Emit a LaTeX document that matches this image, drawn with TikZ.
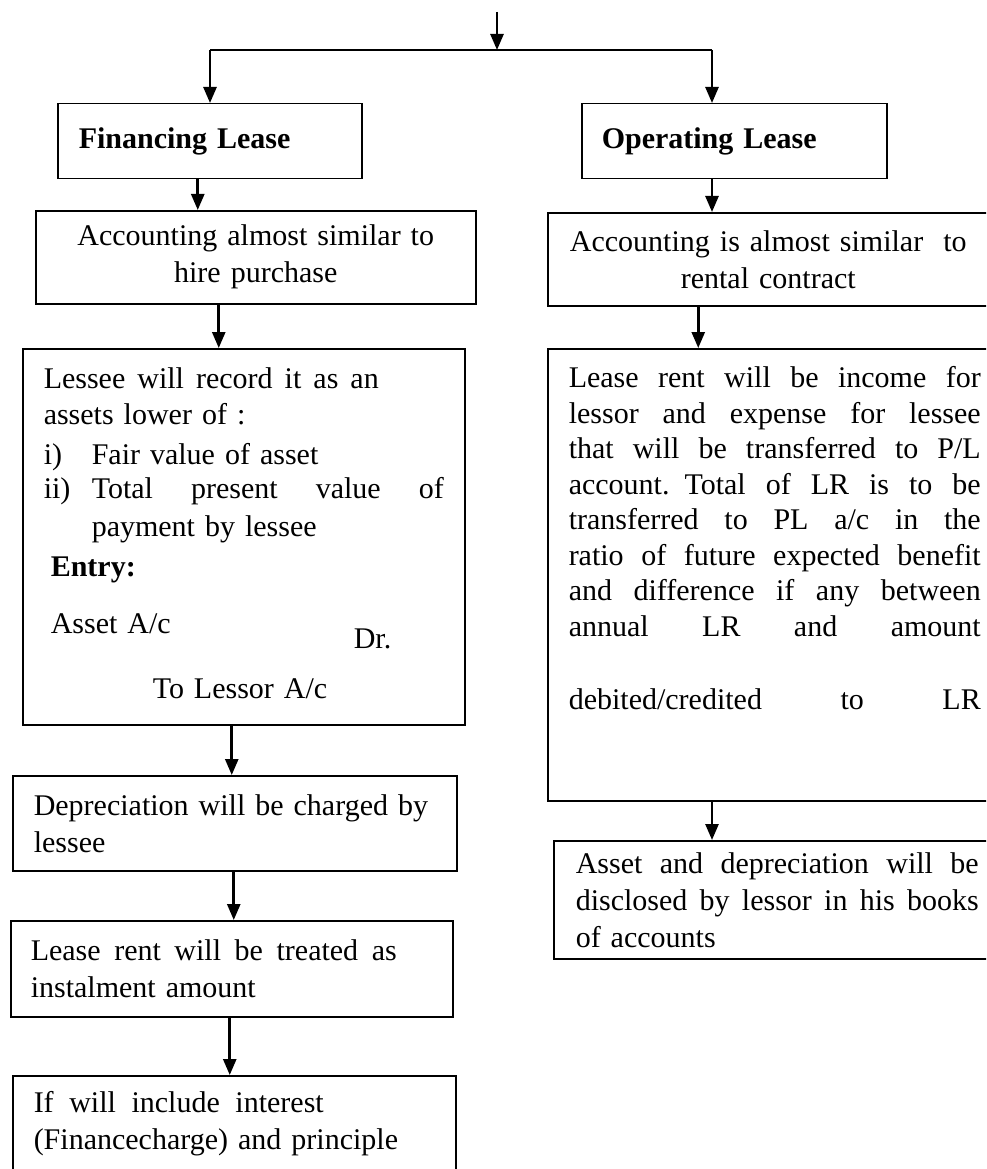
\documentclass[tikz,border=0pt]{standalone}
\usepackage{fontspec}
\setmainfont{Liberation Serif}
\usetikzlibrary{arrows.meta}
\newcommand{\spreadline}[2]{\leavevmode\hbox to #1{\spaceskip=.25em plus 1fil\relax #2}}
\tikzstyle{leasebox} = [draw=black, line width=1.5pt, rectangle, anchor=north west,
    inner ysep=0pt, align=left, font=\fontsize{30}{37}\selectfont]
\tikzstyle{leasetitle} = [leasebox, font=\fontsize{30}{37}\selectfont\bfseries]
\tikzstyle{flow} = [line width=2.6pt, -{Triangle[length=16pt,width=13pt]}]

\begin{document}
\begin{tikzpicture}[x=1pt,y=1pt]
\useasboundingbox (0,0) rectangle (986,-1169);
\clip (0,0) rectangle (986,-1169);

% the two kinds of lease
\node[leasetitle, text width=262pt, inner xsep=21pt, minimum height=75pt] (fin) at (57,-103) {Financing Lease};
\node[leasetitle, text width=265pt, inner xsep=20pt, minimum height=75pt] (op) at (581,-103) {Operating Lease};
\coordinate (top) at (497,-12);
\coordinate (split) at (497,-50);

% financing lease side
\node[leasebox, text width=400pt, inner xsep=20pt, minimum height=93pt, align=center] (accfin) at (35,-210)
    {Accounting almost similar to\\ hire purchase};
\node[leasebox, text width=400pt, inner xsep=21pt, minimum height=376pt] (record) at (22,-348) {%
    \spreadline{335pt}{Lessee will record it as an}\\[-1pt]
    assets lower of :\\[3pt]
    \makebox[48pt][l]{i)}Fair value of asset\\[-3pt]
    \makebox[48pt][l]{ii)}\spreadline{352pt}{Total present value of}\\[1pt]
    \hspace*{48pt}payment by lessee\\[3pt]
    \hspace*{7pt}\textbf{Entry:}\\[20pt]
    \hspace*{7pt}\makebox[303pt][l]{Asset A/c}\raisebox{-15pt}{Dr.}\\[28pt]
    \hspace*{109pt}To Lessor A/c\\[-29pt]\mbox{}};
\node[leasebox, text width=402pt, inner xsep=21pt, minimum height=95pt] (depr) at (12,-775)
    {Depreciation will be charged by\\ lessee};
\node[leasebox, text width=402pt, inner xsep=20pt, minimum height=96pt] (instal) at (10,-920)
    {\spreadline{366pt}{Lease rent will be treated as}\\ instalment amount};
\node[leasebox, text width=401pt, inner xsep=21pt, minimum height=130pt] (interest) at (12,-1075)
    {\spreadline{290pt}{If will include interest}\\ (Financecharge) and principle\\[4pt]\mbox{}};

% operating lease side
\node[leasebox, text width=399pt, inner xsep=21pt, minimum height=93pt, align=center] (accop) at (547,-212)
    {Accounting is almost similar\ \ to\\ rental contract};
\node[leasebox, text width=412pt, inner xsep=21pt, minimum height=452pt,
      font=\fontsize{30}{35.5}\selectfont] (rent) at (547,-348) {%
    \spreadline{412pt}{Lease rent will be income for}\\
    \spreadline{412pt}{lessor and expense for lessee}\\
    \spreadline{412pt}{that will be transferred to P/L}\\
    \spreadline{412pt}{account. Total of LR is to be}\\
    \spreadline{412pt}{transferred to PL a/c in the}\\
    \spreadline{412pt}{ratio of future expected benefit}\\
    \spreadline{412pt}{and difference if any between}\\
    \spreadline{412pt}{annual LR and amount}\\
    \mbox{}\\[2pt]
    \spreadline{412pt}{debited/credited to LR}\\[38pt]\mbox{}};
\node[leasebox, text width=403pt, inner xsep=22pt, minimum height=118pt] (disclose) at (553,-840) {%
    \spreadline{403pt}{Asset and depreciation will be}\\
    \spreadline{403pt}{disclosed by lessor in his books}\\
    of accounts};

% connectors
\draw[flow] (top) -- (split);
\draw[line width=2.2pt] (split) -- (split -| 210,0) coordinate (leftend)
    (split) -- (split -| 712,0) coordinate (rightend);
\draw[flow] (leftend) -- (leftend |- fin.north);
\draw[flow] (rightend) -- (rightend |- op.north);
\draw[flow] ([xshift=-12pt]fin.south) -- ([xshift=-12pt]fin.south |- accfin.north);
\draw[flow] (op.south -| rightend) -- (rightend |- accop.north);
\draw[flow] ([xshift=-37pt]accfin.south) -- ([xshift=-37pt]accfin.south |- record.north);
\draw[flow] ([xshift=-70pt]accop.south) -- ([xshift=-70pt]accop.south |- rent.north);
\draw[flow] ([xshift=-12pt]record.south) -- ([xshift=-12pt]record.south |- depr.north);
\draw[flow] ([xshift=-1pt]depr.south) -- ([xshift=-1pt]depr.south |- instal.north);
\draw[flow] ([xshift=-2pt]instal.south) -- ([xshift=-2pt]instal.south |- interest.north);
\draw[flow] (rent.south -| rightend) -- (rightend |- disclose.north);
\end{tikzpicture}
\end{document}
